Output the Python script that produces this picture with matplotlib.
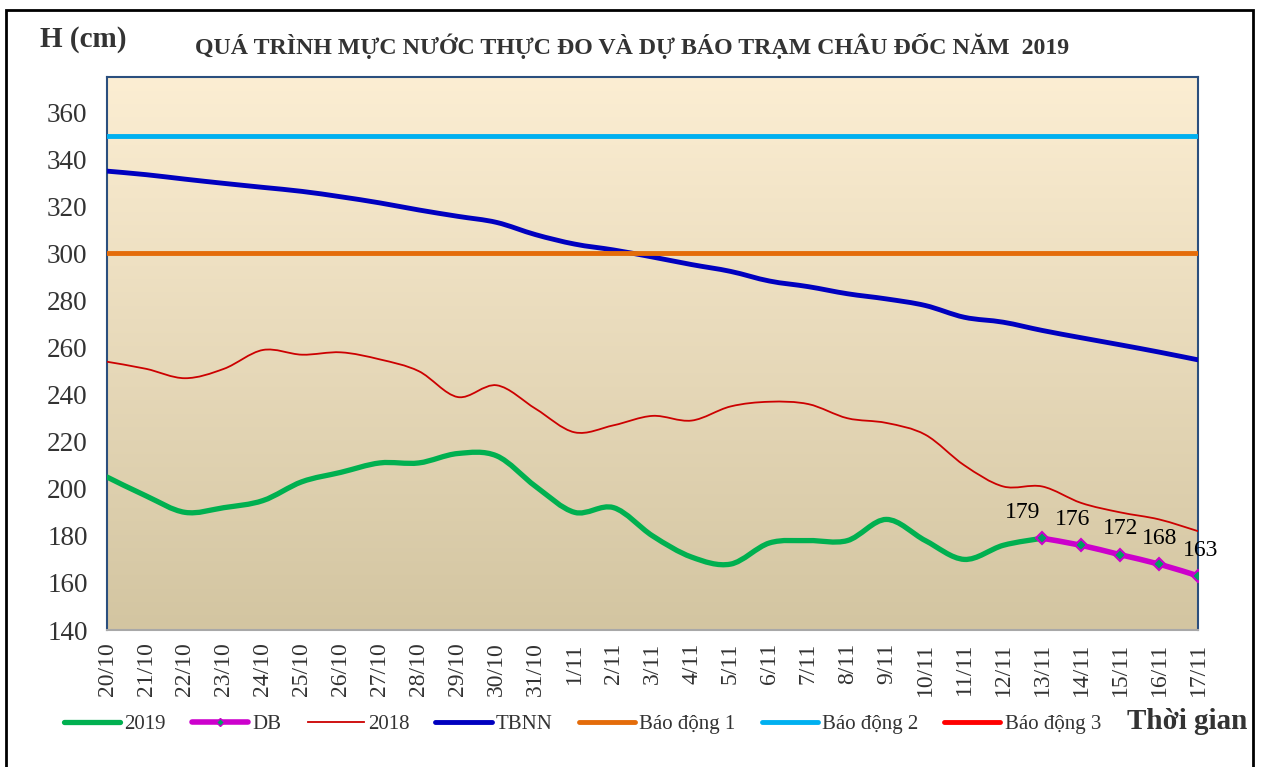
import numpy as np
import matplotlib.pyplot as plt
from matplotlib.path import Path
from matplotlib.patches import PathPatch, Rectangle
from matplotlib.lines import Line2D
from matplotlib.colors import LinearSegmentedColormap

plt.rcParams['font.family'] = ['Liberation Serif', 'DejaVu Serif']

ngay = ['20/10', '21/10', '22/10', '23/10', '24/10', '25/10', '26/10', '27/10',
        '28/10', '29/10', '30/10', '31/10', '1/11', '2/11', '3/11', '4/11',
        '5/11', '6/11', '7/11', '8/11', '9/11', '10/11', '11/11', '12/11',
        '13/11', '14/11', '15/11', '16/11', '17/11']

# muc nuoc thuc do 2019 (den 13/11)
h2019 = [205, 197, 190, 192, 195, 203, 207, 211, 211, 215, 214, 201, 190, 192,
         180, 171, 168, 177, 178, 178, 187, 178, 170, 176, 179]
# du bao tu 13/11
db = [179, 176, 172, 168, 163]
h2018 = [254, 251, 247, 251, 259, 257, 258, 255, 250, 239, 244, 234, 224, 227,
         231, 229, 235, 237, 236, 230, 228, 223, 210, 201, 201, 194, 190, 187, 182]
tbnn = [335, 333.5, 331.6, 329.8, 328.1, 326.4, 324.1, 321.5, 318.5, 315.8,
        313.2, 308, 304, 301.5, 298.5, 295.3, 292.4, 288.3, 285.9, 282.9, 280.7,
        277.9, 272.9, 270.8, 267.3, 264.2, 261.2, 258.1, 254.8]
bd1 = 300
bd2 = 350
bd3 = 400


def duong_cong(ax, x, y, **kw):
    # duong cong kieu Excel (Catmull-Rom -> Bezier)
    p = np.column_stack([x, y]).astype(float)
    verts = [p[0]]
    codes = [Path.MOVETO]
    n = len(p)
    for i in range(n - 1):
        p0 = p[i - 1] if i > 0 else p[i]
        p3 = p[i + 2] if i + 2 < n else p[i + 1]
        c1 = p[i] + (p[i + 1] - p0) / 6
        c2 = p[i + 1] - (p3 - p[i]) / 6
        verts += [c1, c2, p[i + 1]]
        codes += [Path.CURVE4] * 3
    patch = PathPatch(Path(verts, codes), fill=False, capstyle='round',
                      joinstyle='round', **kw)
    ax.add_patch(patch)
    return patch


fig = plt.figure(figsize=(12.61, 7.67), dpi=100)
ax = fig.add_axes([0.0849, 0.1786, 0.8652, 0.721])

cmap_nen = LinearSegmentedColormap.from_list('nen', ['#FCEED3', '#D3C5A1'])
ax.imshow(np.linspace(0, 1, 256).reshape(-1, 1), cmap=cmap_nen, aspect='auto',
          extent=[0, 1, 0, 1], transform=ax.transAxes, zorder=0)

x = np.arange(len(ngay))
x2019 = x[:len(h2019)]
xdb = x[len(h2019) - 1:len(h2019) - 1 + len(db)]

duong_cong(ax, x2019, h2019, edgecolor='#00B050', lw=3.8, zorder=3)
duong_cong(ax, xdb, db, edgecolor='#CC00CC', lw=4, zorder=4)
ax.plot(xdb, db, ls='none', marker='D', ms=6, mfc='#00A060', mec='#CC00CC',
        mew=1.5, zorder=5)
duong_cong(ax, x, h2018, edgecolor='#CC0000', lw=1.3, zorder=6)
duong_cong(ax, x, tbnn, edgecolor='#0000BF', lw=3.5, zorder=7)
ax.axhline(bd1, color='#E46C0A', lw=3.5, zorder=8)
ax.axhline(bd2, color='#00B0F0', lw=3.5, zorder=9)
ax.axhline(bd3, color='#FF0000', lw=3.5, zorder=10)

# nhan so lieu du bao
lech_x = [-14, -6, 0, 0, 2]
for xi, yi, dx in zip(xdb, db, lech_x):
    ax.annotate(str(yi), (xi, yi), xytext=(dx, 11), textcoords='offset points',
                ha='center', va='bottom', fontsize=17, color='black', zorder=11)

ax.set_xlim(0, len(ngay) - 1)
ax.set_ylim(140, 375)
ax.set_yticks(range(140, 361, 20))
ax.set_xticks(x)
ax.set_xticklabels(ngay, rotation=90)
ax.tick_params(axis='both', length=0, colors='#333333')
ax.tick_params(axis='y', pad=14, labelsize=19.5)
ax.tick_params(axis='x', pad=9, labelsize=17)

for s in ['left', 'right', 'top']:
    ax.spines[s].set_color('#2B4F7E')
    ax.spines[s].set_linewidth(1.5)
ax.spines['bottom'].set_color('#A8A8A8')
ax.spines['bottom'].set_linewidth(1.5)

fig.text(0.032, 0.948, 'H (cm)', fontsize=21, fontweight='bold',
         color='#333333', va='center', ha='left')
fig.text(0.501, 0.940, 'QUÁ TRÌNH MỰC NƯỚC THỰC ĐO VÀ DỰ BÁO TRẠM CHÂU ĐỐC NĂM  2019',
         fontsize=17.2, fontweight='bold', color='#333333', va='center',
         ha='center')
fig.text(0.894, 0.059, 'Thời gian', fontsize=21, fontweight='bold',
         color='#333333', va='center', ha='left')

handles = [
    Line2D([], [], color='#00B050', lw=3.8, solid_capstyle='round'),
    Line2D([], [], color='#CC00CC', lw=4, marker='D', ms=4, mfc='#00A060',
           mec='#CC00CC', solid_capstyle='round'),
    Line2D([], [], color='#CC0000', lw=1.3),
    Line2D([], [], color='#0000BF', lw=3.5, solid_capstyle='round'),
    Line2D([], [], color='#E46C0A', lw=3.5, solid_capstyle='round'),
    Line2D([], [], color='#00B0F0', lw=3.5, solid_capstyle='round'),
    Line2D([], [], color='#FF0000', lw=3.5, solid_capstyle='round'),
]
nhan = ['2019', 'DB', '2018', 'TBNN', 'Báo động 1', 'Báo động 2', 'Báo động 3']
leg = fig.legend(handles, nhan, loc='center', bbox_to_anchor=(0.462, 0.056),
                 ncol=7, frameon=False, fontsize=15, handlelength=2.7,
                 handletextpad=0.2, columnspacing=1.25)
for t in leg.get_texts():
    t.set_color('#333333')

fig.add_artist(Rectangle((6 / 1261, -0.02), 1247 / 1261, 1 - 10 / 767 + 0.02,
                         transform=fig.transFigure, fill=False, lw=2,
                         ec='black'))

fig.savefig('out.png', dpi=100)
